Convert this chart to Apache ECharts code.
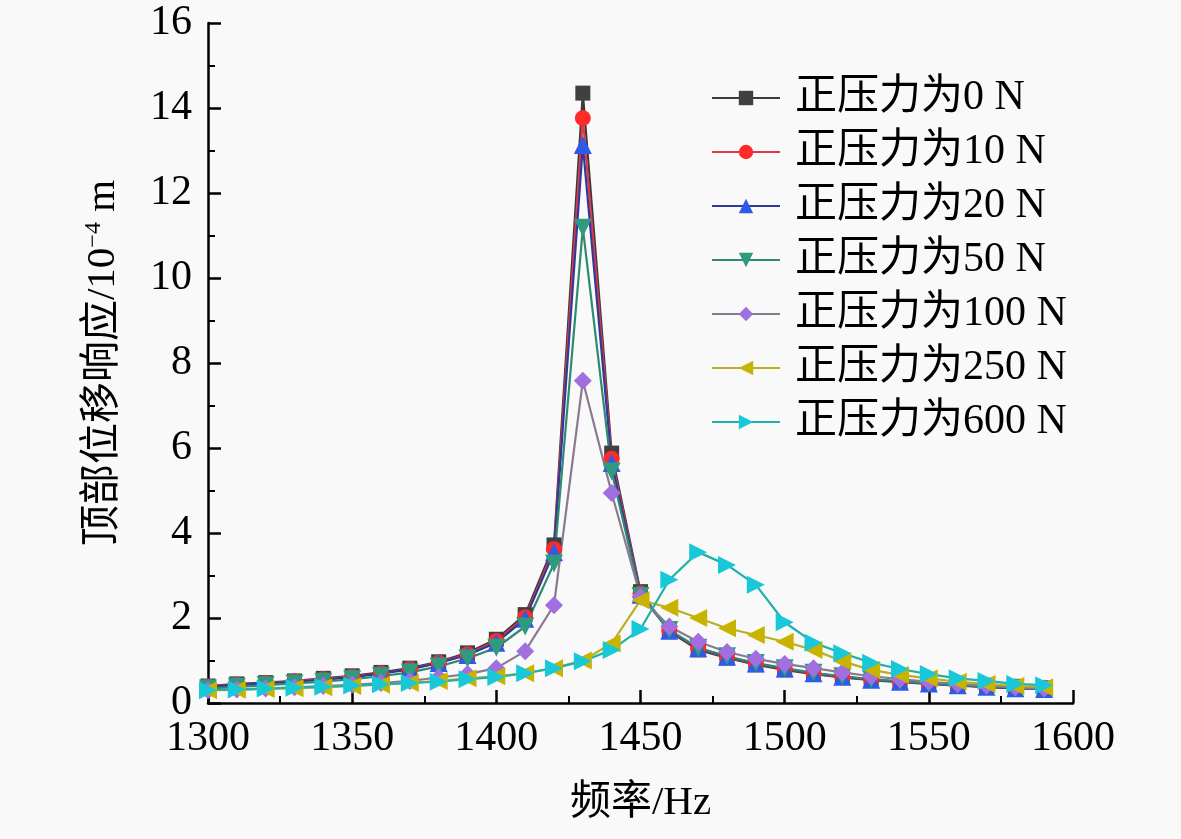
<!DOCTYPE html>
<html>
<head>
<meta charset="utf-8">
<script src="https://cdn.jsdelivr.net/npm/echarts@6/dist/echarts.min.js"></script>
<style>
html,body{margin:0;padding:0;background:#f9f9f9;}
#c{width:1181px;height:839px;}
</style>
</head>
<body>
<div id="c"></div>
<script>
const freq = [1300,1310,1320,1330,1340,1350,1360,1370,1380,1390,1400,1410,1420,1430,1440,1450,1460,1470,1480,1490,1500,1510,1520,1530,1540,1550,1560,1570,1580,1590];
const seriesNames = ['正压力为0 N','正压力为10 N','正压力为20 N','正压力为50 N','正压力为100 N','正压力为250 N','正压力为600 N'];
const f0   = [0.40,0.45,0.48,0.52,0.58,0.64,0.72,0.82,0.97,1.18,1.50,2.08,3.72,14.35,5.88,2.62,1.68,1.25,1.06,0.90,0.78,0.68,0.60,0.54,0.49,0.45,0.41,0.38,0.35,0.33];
const f10  = [0.39,0.43,0.47,0.51,0.56,0.62,0.70,0.80,0.95,1.15,1.46,2.02,3.62,13.76,5.75,2.58,1.70,1.28,1.08,0.92,0.80,0.69,0.61,0.55,0.50,0.46,0.42,0.38,0.35,0.33];
const f20  = [0.38,0.42,0.46,0.50,0.55,0.61,0.69,0.79,0.94,1.13,1.42,1.98,3.55,13.13,5.65,2.55,1.70,1.29,1.09,0.93,0.81,0.70,0.62,0.55,0.50,0.46,0.42,0.38,0.35,0.33];
const f50  = [0.34,0.38,0.42,0.46,0.50,0.56,0.63,0.72,0.86,1.05,1.30,1.80,3.28,11.18,5.45,2.52,1.72,1.30,1.10,0.94,0.82,0.71,0.63,0.56,0.51,0.46,0.42,0.39,0.36,0.33];
const f100 = [0.30,0.32,0.34,0.37,0.40,0.43,0.47,0.52,0.60,0.68,0.82,1.22,2.30,7.58,4.94,2.50,1.80,1.44,1.20,1.04,0.92,0.82,0.72,0.63,0.56,0.50,0.45,0.41,0.37,0.34];
const f250 = [0.30,0.31,0.33,0.35,0.37,0.40,0.43,0.47,0.52,0.58,0.63,0.70,0.82,1.00,1.40,2.42,2.24,2.00,1.76,1.60,1.44,1.25,0.98,0.78,0.66,0.58,0.50,0.45,0.40,0.37];
const f600 = [0.30,0.32,0.34,0.36,0.38,0.41,0.44,0.47,0.50,0.56,0.61,0.70,0.82,0.98,1.25,1.74,2.90,3.55,3.25,2.78,1.90,1.42,1.17,0.95,0.80,0.68,0.58,0.52,0.45,0.42];
const xTicks = [1300,1350,1400,1450,1500,1550,1600];
const yTicks = [0,2,4,6,8,10,12,14,16];

const values = [f0,f10,f20,f50,f100,f250,f600];
const lineColors   = ['#3a3a3a','#e03a4a','#30389a','#2e8a70','#8a7a90','#b8b020','#20b0a8'];
const markerColors = ['#404040','#ff2a2a','#2f5ae8','#2e9a7e','#a070e0','#c8b400','#18c8d8'];
const symbols = ['rect','circle','triangle','triangle','diamond','triangle','triangle'];
const rotates = [0,0,0,180,0,90,-90];
const sizes = [15,16,18,18,18,18,18];

const FONT = '"Liberation Serif","Times New Roman","Noto Sans CJK SC",serif';

const chart = echarts.init(document.getElementById('c'));
const series = seriesNames.map((n,i)=>({
  name:n, type:'line',
  data: freq.map((x,j)=>[x, values[i][j]]),
  symbol: symbols[i], symbolRotate: rotates[i], symbolSize: sizes[i],
  showAllSymbol: true,
  lineStyle:{color:lineColors[i], width:2.2},
  itemStyle:{color:markerColors[i]},
  emphasis:{disabled:true},
  animation:false
}));

chart.setOption({
  backgroundColor:'#f9f9f9',
  animation:false,
  grid:{left:208, right:108, top:23, bottom:136, containLabel:false},
  legend:{
    orient:'vertical', left:706, top:72,
    itemWidth:68, itemHeight:18, itemGap:12,
    textStyle:{fontSize:42, fontFamily:FONT, color:'#000', padding:[0,0,0,10]},
    data: seriesNames
  },
  xAxis:{
    type:'value', min:xTicks[0], max:xTicks[xTicks.length-1], interval:50,
    name:'频率/Hz', nameLocation:'middle', nameGap:80,
    nameTextStyle:{fontSize:41, fontFamily:FONT, color:'#000'},
    axisLine:{onZero:false, lineStyle:{color:'#000', width:2.5}},
    axisTick:{inside:true, length:13, lineStyle:{color:'#000', width:2.5}},
    minorTick:{show:true, splitNumber:2, length:7, lineStyle:{color:'#000', width:2}},
    axisLabel:{fontSize:42, fontFamily:FONT, color:'#000', margin:15, formatter:(v)=>String(v)},
    splitLine:{show:false}
  },
  yAxis:{
    type:'value', min:yTicks[0], max:yTicks[yTicks.length-1], interval:2,
    name:'顶部位移响应/10{sup|−4} m', nameLocation:'middle', nameGap:84, nameRotate:90,
    nameTextStyle:{fontSize:41, fontFamily:FONT, color:'#000',
      rich:{sup:{fontSize:24, fontFamily:FONT, color:'#000', verticalAlign:'top', padding:[0,0,18,0]}}},
    axisLine:{onZero:false, lineStyle:{color:'#000', width:2.5}},
    axisTick:{inside:true, length:13, lineStyle:{color:'#000', width:2.5}},
    minorTick:{show:true, splitNumber:2, length:7, lineStyle:{color:'#000', width:2}},
    axisLabel:{fontSize:42, fontFamily:FONT, color:'#000', margin:16, formatter:(v)=>String(v)},
    splitLine:{show:false}
  },
  series: series
});
</script>
</body>
</html>
